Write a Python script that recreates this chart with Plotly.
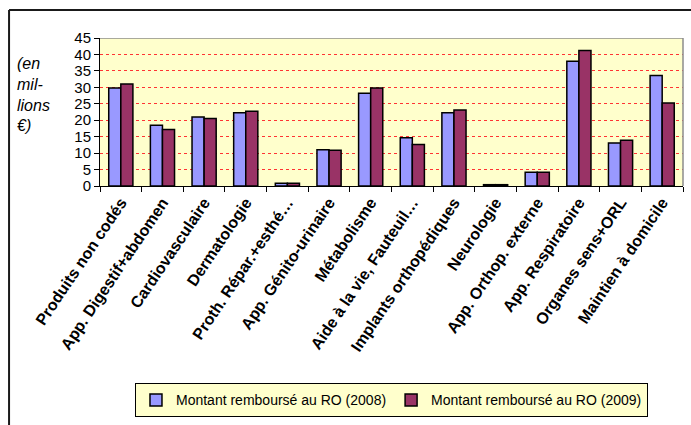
import plotly.graph_objects as go

categories = [
    "Produits non codés", "App. Digestif+abdomen", "Cardiovasculaire", "Dermatologie",
    "Proth. Répar.+esthé…", "App. Génito-urinaire", "Métabolisme", "Aide à la vie, Fauteuil…",
    "Implants orthopédiques", "Neurologie", "App. Orthop. externe", "App. Respiratoire",
    "Organes sens+ORL", "Maintien à domicile",
]
values_2008 = [29.8, 18.5, 21.0, 22.3, 0.8, 11.0, 28.2, 14.7, 22.3, 0.4, 4.2, 37.9, 13.1, 33.6]
values_2009 = [31.0, 17.2, 20.5, 22.7, 0.8, 10.9, 29.8, 12.6, 23.1, 0.4, 4.2, 41.2, 13.9, 25.2]
series_names = ["Montant remboursé au RO (2008)", "Montant remboursé au RO (2009)"]
y_ticks = [0, 5, 10, 15, 20, 25, 30, 35, 40, 45]

fig = go.Figure()
fig.add_trace(go.Bar(x=categories, y=values_2008, name=series_names[0],
                     marker=dict(color="#9999FF", line=dict(color="#000000", width=1.5))))
fig.add_trace(go.Bar(x=categories, y=values_2009, name=series_names[1],
                     marker=dict(color="#993366", line=dict(color="#000000", width=1.5))))

fig.update_layout(
    width=691, height=425,
    margin=dict(l=100, r=8, t=38, b=234),
    paper_bgcolor="white", plot_bgcolor="#FFFFCC",
    barmode="group", bargap=0.42, bargroupgap=0,
    font=dict(family="Arial, Liberation Sans, sans-serif", color="#000000"),
    showlegend=True,
    legend=dict(orientation="h", x=0.06, xanchor="left", y=-1.333, yanchor="top",
                bgcolor="#FFFFCC", bordercolor="#000000", borderwidth=1,
                font=dict(size=14), itemwidth=30, tracegroupgap=0),
    xaxis=dict(showline=True, linecolor="#000000", linewidth=1,
               ticks="outside", ticklen=5, tickcolor="#000000", tickson="boundaries",
               tickangle=-56,
               tickfont=dict(size=16, family="Arial, Liberation Sans, sans-serif", weight="bold"),
               showgrid=False, fixedrange=True),
    yaxis=dict(range=[0, 45], tickvals=y_ticks, showline=True, linecolor="#000000", linewidth=1,
               ticks="outside", ticklen=5, tickcolor="#000000", tickfont=dict(size=15),
               showgrid=True, gridcolor="#FF3333", gridwidth=1, griddash="dot",
               zeroline=False, fixedrange=True),
)

# plot-area border (top and right), grey
fig.add_shape(type="line", xref="paper", yref="y", x0=0, x1=1, y0=45, y1=45,
              line=dict(color="#8C8C8C", width=1.5))
fig.add_shape(type="line", xref="paper", yref="paper", x0=1, x1=1, y0=0, y1=1,
              line=dict(color="#8C8C8C", width=1.5))
# outer chart border (only top and left visible; cropped at right and bottom)
fig.add_shape(type="line", xref="paper", yref="paper", x0=-0.156, x1=1.1, y0=1.19, y1=1.19,
              line=dict(color="#1A1A1A", width=2))
fig.add_shape(type="line", xref="paper", yref="paper", x0=-0.156, x1=-0.156, y0=-1.7, y1=1.19,
              line=dict(color="#1A1A1A", width=2))

fig.add_annotation(text="<i>(en<br>mil-<br>lions<br>€)</i>", xref="paper", yref="paper",
                   x=-0.145, xanchor="left", y=0.9, yanchor="top", align="left",
                   showarrow=False, font=dict(size=16))

fig.write_html("out.html")
